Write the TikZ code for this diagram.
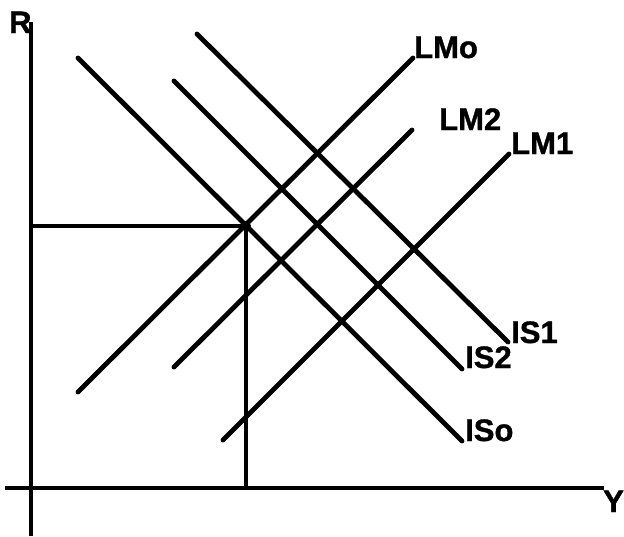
\documentclass[tikz,border=0pt]{standalone}
\usepackage{fontspec}
\setmainfont{Liberation Sans}
\newfontfamily\lblfont{Liberation Sans}[FakeBold=1.2]
\begin{document}
\begin{tikzpicture}[x=1pt,y=-1pt,
  curve/.style={line width=4.8pt,line cap=round},
  axis/.style={line width=3.4pt},
  guide/.style={line width=3.8pt},
  lbl/.style={inner sep=0pt,anchor=base west,font=\lblfont\bfseries\fontsize{31}{31}\selectfont}]
\useasboundingbox (0,0) rectangle (624,536);
% axes
\coordinate (ytop) at (31,22);
\coordinate (ybot) at (31,536);
\coordinate (xl) at (5,488);
\coordinate (xr) at (604,488);
\draw[axis] (ytop) -- (ybot);
\draw[axis] (xl) -- (xr);
\node[lbl] (R) at (9,33) {R};
\node[lbl] (Y) at (603,512) {Y};
% equilibrium point
\coordinate (E) at (246,226);
\coordinate (Ey) at (31,226);
\coordinate (Ex) at (246,486);
\draw[guide] (Ey) -- (E);
\draw[axis] (E) -- (Ex);
% IS curves
\coordinate (ISoA) at (78,58);   \coordinate (ISoB) at (462,441);
\coordinate (IStA) at (174,81);  \coordinate (IStB) at (462,369);
\coordinate (ISaA) at (197,34);  \coordinate (ISaB) at (508,342);
\draw[curve] (ISoA) -- (ISoB);
\draw[curve] (IStA) -- (IStB);
\draw[curve] (ISaA) -- (ISaB);
% LM curves
\coordinate (LMoA) at (78,392);  \coordinate (LMoB) at (413,58);
\coordinate (LMtA) at (174,367); \coordinate (LMtB) at (412,130);
\coordinate (LMaA) at (223,440); \coordinate (LMaB) at (509,154);
\draw[curve] (LMoA) -- (LMoB);
\draw[curve] (LMtA) -- (LMtB);
\draw[curve] (LMaA) -- (LMaB);
\fill (E) circle (5);
% labels
\node[lbl] (lLMo) at (414,58) {LMo};
\node[lbl] (lLM2) at (439,130) {LM2};
\node[lbl] (lLM1) at (511,154) {LM1};
\node[lbl] (lIS1) at (511,343) {IS1};
\node[lbl] (lIS2) at (465,368) {IS2};
\node[lbl] (lISo) at (465,441) {ISo};
\end{tikzpicture}
\end{document}
